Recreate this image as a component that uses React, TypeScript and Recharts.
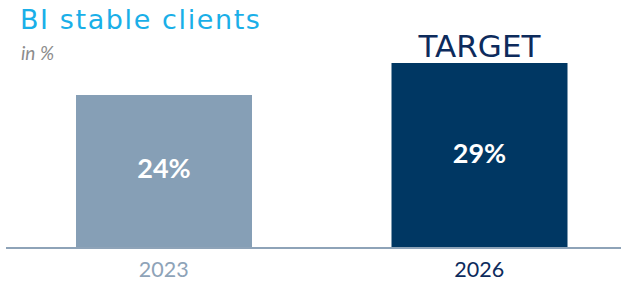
import { BarChart, Bar, XAxis, YAxis, Cell, LabelList } from "recharts";

const years = ["2023", "2026"];
const shares = [24, 29];
const notes = ["", "TARGET"];
const barColors = ["#869fb6", "#003763"];
const tickColors = ["#8ea3b8", "#0d2b5c"];

const data = years.map((year, i) => ({ year, share: shares[i], note: notes[i] }));

const FONT = "Lato, 'Open Sans', sans-serif";
const WIDE = "'DejaVu Sans', Verdana, sans-serif";

function YearTick(props: any) {
  const { x, y, payload, index } = props;
  return (
    <text
      x={x}
      y={y + 21}
      textAnchor="middle"
      fontFamily={FONT}
      fontSize={21.5}
      fill={tickColors[index] ?? "#8ea3b8"}
    >
      {payload.value}
    </text>
  );
}

function ValueLabel(props: any) {
  const { x, y, width, height, value } = props;
  return (
    <text
      x={x + width / 2}
      y={y + height / 2 + 7}
      textAnchor="middle"
      fontFamily={FONT}
      fontWeight={700}
      fontSize={27}
      fill="#ffffff"
    >
      {`${value}%`}
    </text>
  );
}

function NoteLabel(props: any) {
  const { x, y, width, value } = props;
  if (!value) return null;
  return (
    <text
      x={x + width / 2}
      y={y - 6}
      textAnchor="middle"
      fontFamily={WIDE}
      fontSize={31}
      fill="#0d2b5c"
    >
      {value}
    </text>
  );
}

export default function App() {
  return (
    <div
      style={{
        position: "absolute",
        left: 0,
        top: 0,
        width: 621,
        height: 284,
        overflow: "hidden",
        background: "#ffffff",
      }}
    >
      <svg
        width={621}
        height={70}
        style={{ position: "absolute", left: 0, top: 0 }}
      >
        <text
          x={20}
          y={29}
          fontFamily={WIDE}
          fontSize={27}
          letterSpacing={1.6}
          fill="#1aafe8"
        >
          BI stable clients
        </text>
        <text
          x={21}
          y={60}
          fontFamily={FONT}
          fontSize={19}
          fontStyle="italic"
          fill="#8c8c8c"
        >
          in %
        </text>
      </svg>
      <BarChart
        width={637}
        height={284}
        data={data}
        margin={{ top: 63, right: 0, bottom: 0, left: 6 }}
      >
        <XAxis
          dataKey="year"
          height={36}
          axisLine={{ stroke: "#8ea3b8", strokeWidth: 2 }}
          tickLine={false}
          tick={<YearTick />}
          interval={0}
        />
        <YAxis hide domain={[0, 29]} />
        <Bar dataKey="share" barSize={176} isAnimationActive={false}>
          {data.map((d, i) => (
            <Cell key={d.year} fill={barColors[i]} />
          ))}
          <LabelList dataKey="share" content={<ValueLabel />} />
          <LabelList dataKey="note" content={<NoteLabel />} />
        </Bar>
      </BarChart>
    </div>
  );
}
